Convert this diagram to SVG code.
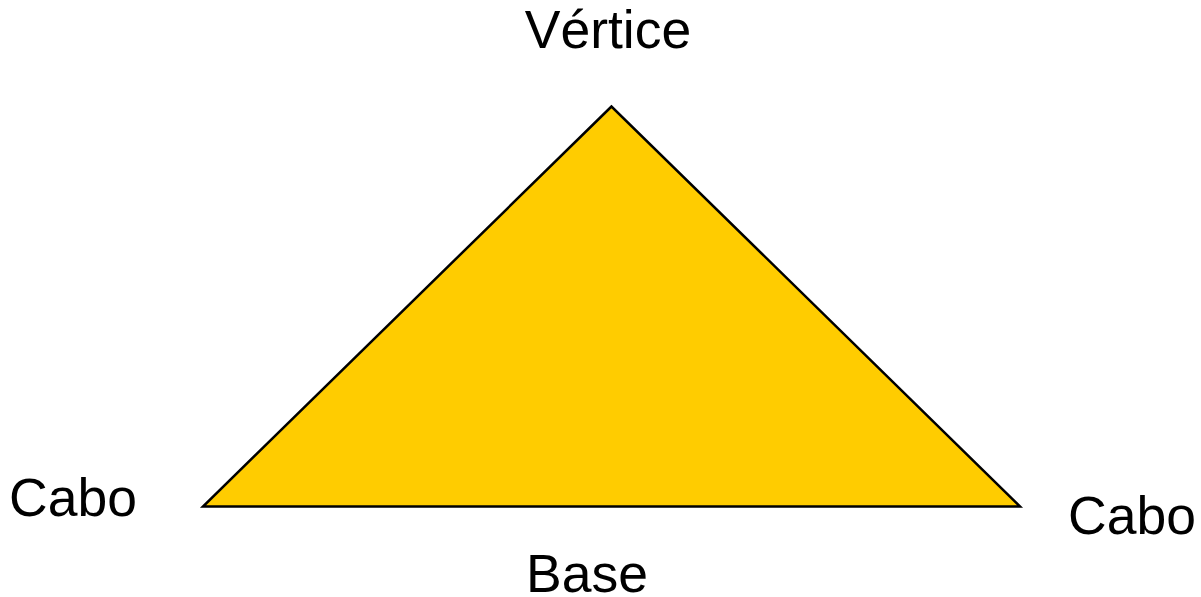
<svg xmlns="http://www.w3.org/2000/svg" width="1201" height="597" viewBox="0 0 1201 597">
<style>
.lbl{font-family:"Liberation Sans",Arial,sans-serif;font-size:53.5px;fill:#000}
</style>
<rect width="1201" height="597" fill="#fff"/>
<g id="triangle">
<polygon points="611.5,106.5 203,506.5 1020,506.5" fill="#FFCC00" stroke="#000" stroke-width="2.5" stroke-linejoin="miter"/>
</g>
<g id="vertice"><text class="lbl" x="608" y="48" text-anchor="middle">Vértice</text></g>
<g id="cabo-left"><text class="lbl" x="9" y="516">Cabo</text></g>
<g id="cabo-right"><text class="lbl" x="1068" y="534">Cabo</text></g>
<g id="base"><text class="lbl" x="587" y="592" text-anchor="middle">Base</text></g>
</svg>
